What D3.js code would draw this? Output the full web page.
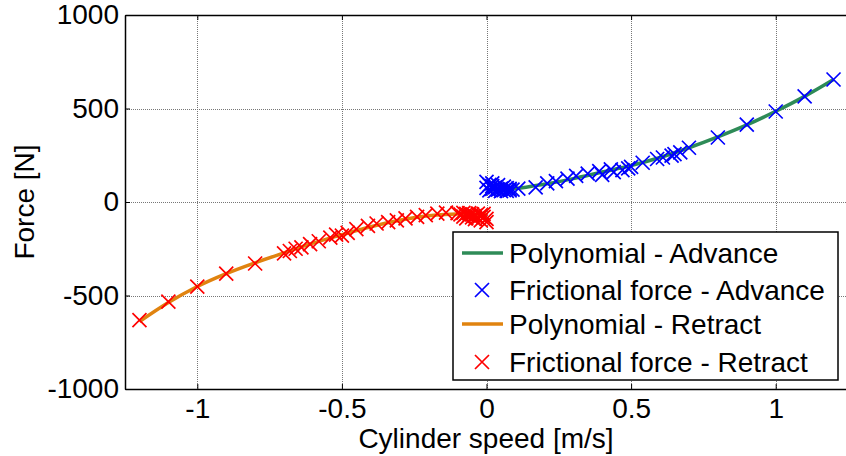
<!DOCTYPE html>
<html>
<head>
<meta charset="utf-8">
<script src="https://cdn.jsdelivr.net/npm/d3@7"></script>
<style>
  body { margin: 0; background: #fff; }
  text { font-family: "Liberation Sans", Arial, sans-serif; fill: #000; }
</style>
</head>
<body>
<div id="chart"></div>
<script>
var advanceSpeed = [0.00, 0.00, 0.01, 0.01, 0.02, 0.02, 0.02, 0.03, 0.03, 0.04, 0.04, 0.05,
    0.05, 0.06, 0.06, 0.07, 0.07, 0.08, 0.08, 0.09,
    0.11, 0.17, 0.21, 0.24, 0.28, 0.31, 0.35, 0.39, 0.40, 0.43, 0.44, 0.47, 0.49, 0.50,
    0.54, 0.59, 0.61, 0.64, 0.65, 0.67, 0.70, 0.80, 0.90, 1.00, 1.10, 1.20];
var advanceForce = [108, 75, 92, 62, 85, 70, 100, 60, 78, 90, 66, 72,
    58, 82, 64, 74, 60, 70, 62, 66,
    72, 78, 100, 112, 125, 140, 152, 165, 145, 175, 160, 170, 180, 188,
    210, 230, 238, 248, 256, 265, 290, 345, 414, 484, 565, 655];

var retractSpeed = [-1.20, -1.10, -1.00, -0.90, -0.80, -0.70, -0.68, -0.66, -0.64, -0.61,
    -0.58, -0.54, -0.52, -0.50, -0.48, -0.45, -0.41, -0.38, -0.34, -0.31, -0.28, -0.24,
    -0.21, -0.17, -0.14, -0.10, -0.09, -0.08, -0.08, -0.07, -0.07, -0.06, -0.06, -0.05,
    -0.05, -0.04, -0.04, -0.03, -0.03, -0.02, -0.02, -0.01, -0.01, 0.00, 0.00];
var retractForce = [-632, -533, -452, -383, -329, -275, -262, -250, -243, -225,
    -210, -190, -175, -180, -165, -145, -128, -115, -108, -98, -88, -80,
    -70, -62, -57, -60, -66, -58, -78, -64, -88, -72, -60, -82,
    -66, -92, -74, -62, -86, -70, -98, -80, -64, -90, -108];

// Fitted polynomials
var polyAdvSpeed = [0.0, 0.1, 0.2, 0.3, 0.4, 0.5, 0.6, 0.7, 0.8, 0.9, 1.0, 1.1, 1.2];
var polyAdvForce = [65, 72, 95, 125, 160, 195, 238, 290, 348, 412, 485, 565, 655];
var polyRetSpeed = [-1.2, -1.1, -1.0, -0.9, -0.8, -0.7, -0.6, -0.5, -0.4, -0.3, -0.2, -0.1, 0.0];
var polyRetForce = [-640, -538, -452, -383, -325, -272, -220, -175, -132, -98, -74, -64, -66];

var xTicks = [-1, -0.5, 0, 0.5, 1];
var yTicks = [-1000, -500, 0, 500, 1000];
var legendLabels = ["Polynomial - Advance", "Frictional force - Advance",
    "Polynomial - Retract", "Frictional force - Retract"];

var W = 846, H = 456;
var margin = { top: 15, left: 125, bottom: 67, right: -2 };
var fontSize = "28px";

var svg = d3.select("#chart").append("svg")
    .attr("width", W).attr("height", H);

var x = d3.scaleLinear().domain([-1.25, 1.25]).range([margin.left, W - margin.right]);
var y = d3.scaleLinear().domain([-1000, 1000]).range([H - margin.bottom, margin.top]);

// grid
var grid = svg.append("g").attr("stroke", "#777").attr("stroke-width", 1)
    .attr("stroke-dasharray", "1,1");
grid.selectAll(".gx").data(xTicks).enter().append("line")
    .attr("x1", d => Math.round(x(d)) + 0.5).attr("x2", d => Math.round(x(d)) + 0.5)
    .attr("y1", y(1000)).attr("y2", y(-1000));
grid.selectAll(".gy").data(yTicks).enter().append("line")
    .attr("y1", d => Math.round(y(d)) + 0.5).attr("y2", d => Math.round(y(d)) + 0.5)
    .attr("x1", x(-1.25)).attr("x2", x(1.25));

// polynomial curves
var line = d3.line().curve(d3.curveMonotoneX).x(d => x(d[0])).y(d => y(d[1]));
svg.append("path").datum(d3.zip(polyAdvSpeed, polyAdvForce))
    .attr("d", line).attr("fill", "none").attr("stroke", "#2e8b57").attr("stroke-width", 3.5);
svg.append("path").datum(d3.zip(polyRetSpeed, polyRetForce))
    .attr("d", line).attr("fill", "none").attr("stroke", "#e0830f").attr("stroke-width", 3.5);

// x markers
var s = 7;
function cross(sel, color) {
    sel.append("path")
        .attr("d", "M" + (-s) + "," + (-s) + "L" + s + "," + s + "M" + (-s) + "," + s + "L" + s + "," + (-s))
        .attr("stroke", color).attr("stroke-width", 1.7).attr("fill", "none");
}
svg.append("g").selectAll("g").data(d3.zip(advanceSpeed, advanceForce)).enter().append("g")
    .attr("transform", d => "translate(" + x(d[0]) + "," + y(d[1]) + ")")
    .call(cross, "#0000ff");
svg.append("g").selectAll("g").data(d3.zip(retractSpeed, retractForce)).enter().append("g")
    .attr("transform", d => "translate(" + x(d[0]) + "," + y(d[1]) + ")")
    .call(cross, "#ff0000");

// axes
var fmt = d => String(d);
var xAxis = svg.append("g").attr("transform", "translate(0," + y(-1000) + ")")
    .call(d3.axisBottom(x).tickValues(xTicks).tickSizeInner(-5).tickSizeOuter(0).tickPadding(9)
        .tickFormat(fmt));
var xAxisTop = svg.append("g").attr("transform", "translate(0," + y(1000) + ")")
    .call(d3.axisTop(x).tickValues(xTicks).tickSizeInner(-5).tickSizeOuter(0).tickFormat(""));
var yAxis = svg.append("g").attr("transform", "translate(" + x(-1.25) + ",0)")
    .call(d3.axisLeft(y).tickValues(yTicks).tickSizeInner(-5).tickSizeOuter(0).tickPadding(6)
        .tickFormat(fmt));
[xAxis, xAxisTop, yAxis].forEach(function (a) {
    a.select(".domain").attr("stroke", "#000").attr("stroke-width", 1.5);
    a.selectAll(".tick line").attr("stroke", "#000");
    a.selectAll("text").style("font-size", fontSize).style("font-family", "Liberation Sans, Arial, sans-serif");
});

// axis labels
svg.append("text").attr("x", 486).attr("y", 448).attr("text-anchor", "middle")
    .style("font-size", fontSize).text("Cylinder speed [m/s]");
svg.append("text").attr("transform", "translate(34,202) rotate(-90)").attr("text-anchor", "middle")
    .style("font-size", fontSize).text("Force [N]");

// legend
var lg = svg.append("g").attr("transform", "translate(453,232)");
lg.append("rect").attr("width", 385).attr("height", 148)
    .attr("fill", "#fff").attr("stroke", "#000").attr("stroke-width", 1.5);
var rowY = [21, 58, 92, 130];
var kinds = [["line", "#2e8b57"], ["cross", "#0000ff"], ["line", "#e0830f"], ["cross", "#ff0000"]];
legendLabels.forEach(function (lab, i) {
    var g = lg.append("g").attr("transform", "translate(0," + rowY[i] + ")");
    if (kinds[i][0] === "line") {
        g.append("line").attr("x1", 9).attr("x2", 50).attr("y1", 0).attr("y2", 0)
            .attr("stroke", kinds[i][1]).attr("stroke-width", 3.5);
    } else {
        g.append("g").attr("transform", "translate(29,0)").call(cross, kinds[i][1]);
    }
    g.append("text").attr("x", 56).attr("y", 0).attr("dy", "0.35em")
        .style("font-size", fontSize).text(lab);
});
</script>
</body>
</html>
